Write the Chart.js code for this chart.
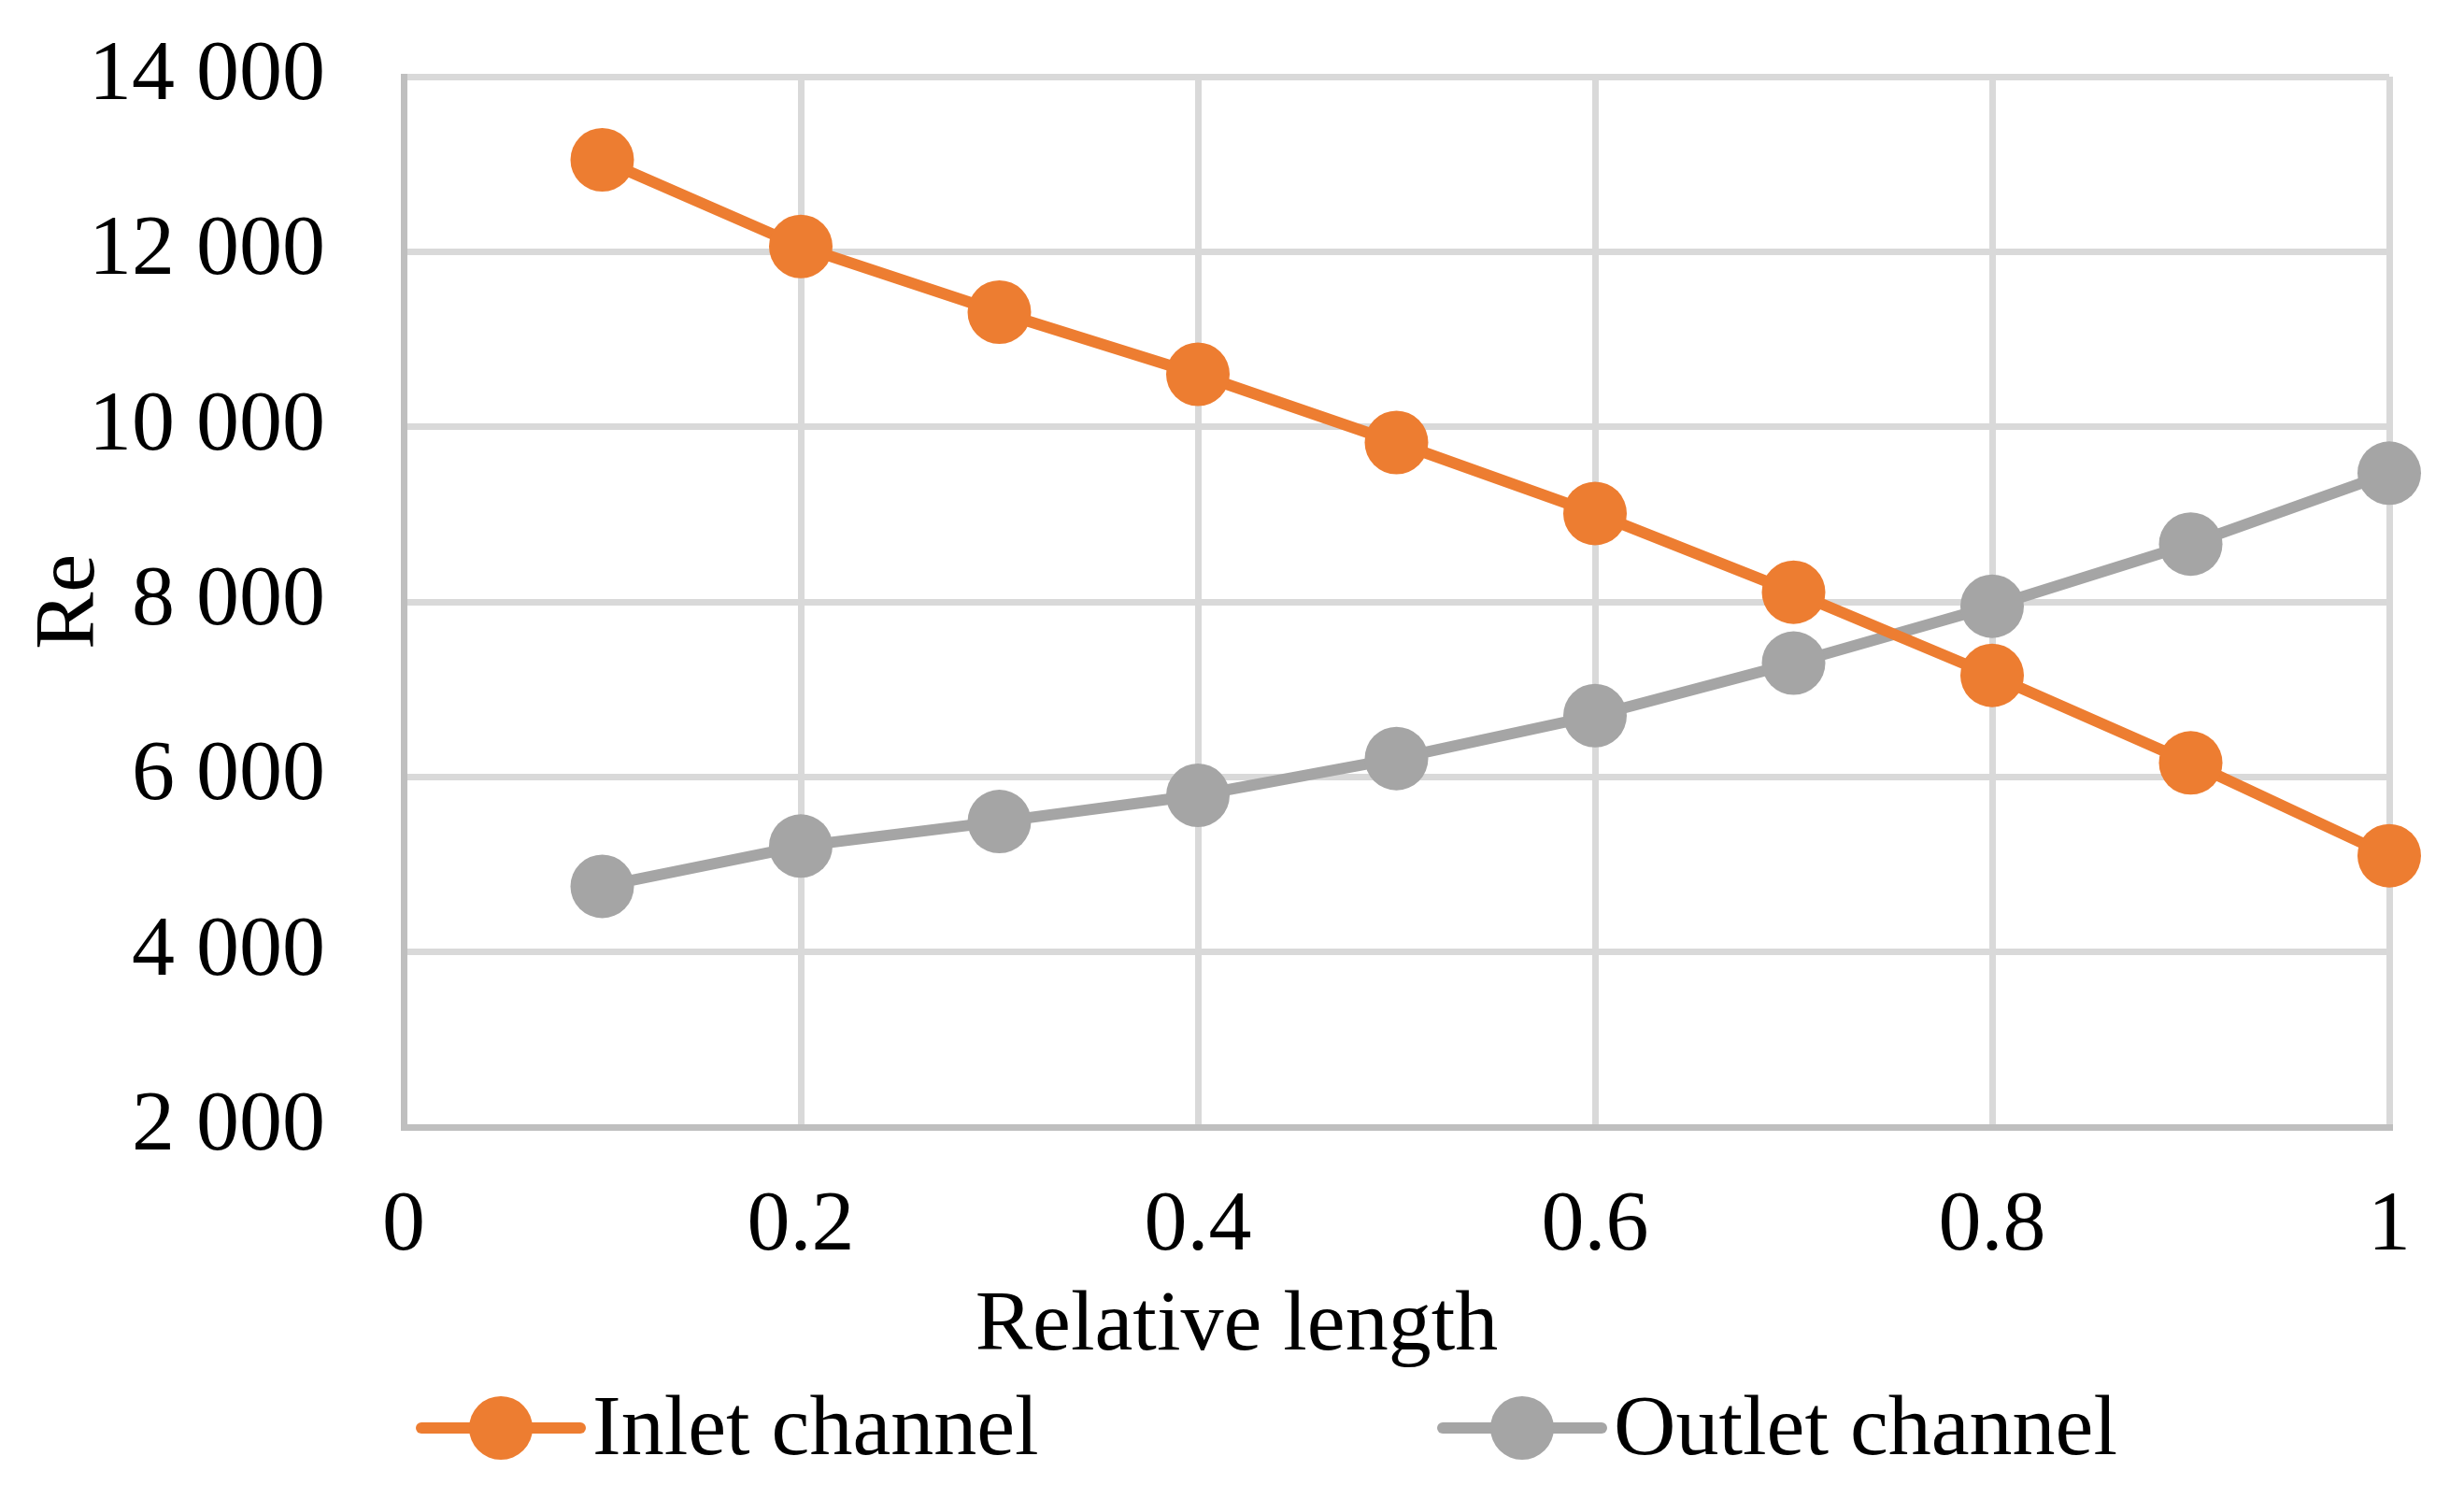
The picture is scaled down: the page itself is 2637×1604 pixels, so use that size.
<!DOCTYPE html>
<html>
<head>
<meta charset="utf-8">
<script src="https://cdn.jsdelivr.net/npm/chart.js@4.4.1/dist/chart.umd.min.js"></script>
<style>
    html, body { margin: 0; padding: 0; background: #fff; }
    canvas { display: block; }
</style>
</head>
<body>
<canvas id="reChart" width="2637" height="1604"></canvas>
<script>
// Data
const relativeLength = [0.1, 0.2, 0.3, 0.4, 0.5, 0.6, 0.7, 0.8, 0.9, 1.0];
const inletRe = [13050, 12060, 11310, 10600, 9820, 9010, 8110, 7160, 6160, 5100];
const outletRe = [4750, 5210, 5490, 5790, 6210, 6700, 7300, 7950, 8660, 9470];
const seriesNames = ['Inlet channel', 'Outlet channel'];
const xTicks = [0, 0.2, 0.4, 0.6, 0.8, 1];
const yTicks = [2000, 4000, 6000, 8000, 10000, 12000, 14000];
const xTitle = 'Relative length';
const yTitle = 'Re';

const FONT = '"Liberation Serif", "Times New Roman", serif';
const ORANGE = '#ED7D31';
const GREY = '#A5A5A5';

// thousands with a space, like "14 000"
function spaced(v) {
    return String(v).replace(/\B(?=(\d{3})+(?!\d))/g, ' ');
}

function points(ys) {
    return relativeLength.map((x, i) => ({ x: x, y: ys[i] }));
}

// x title is centred on the whole chart, not on the plot (Excel does that)
// and the legend is Excel-style: a line with a circle marker, then the text
const excelBits = {
    id: 'excelBits',
    afterDraw(chart) {
        const ctx = chart.ctx;
        const bottom = chart.chartArea.bottom;
        ctx.save();
        ctx.font = '92px ' + FONT;
        ctx.fillStyle = '#000';
        ctx.textBaseline = 'middle';
        ctx.textAlign = 'center';
        ctx.fillText(xTitle, chart.width / 2 + 5, bottom + 214);

        const y = bottom + 322;
        const starts = [451, 1544];
        ctx.textAlign = 'left';
        chart.data.datasets.forEach((ds, i) => {
            const x0 = starts[i];
            ctx.strokeStyle = ds.borderColor;
            ctx.lineWidth = 12;
            ctx.lineCap = 'round';
            ctx.beginPath();
            ctx.moveTo(x0, y);
            ctx.lineTo(x0 + 170, y);
            ctx.stroke();
            ctx.fillStyle = ds.pointBackgroundColor;
            ctx.beginPath();
            ctx.arc(x0 + 85, y, 34, 0, Math.PI * 2);
            ctx.fill();
            ctx.fillStyle = '#000';
            ctx.fillText(ds.label, x0 + 183, y + 4);
        });
        ctx.restore();
    }
};

const ctx = document.getElementById('reChart').getContext('2d');
const reChart = new Chart(ctx, {
    type: 'line',
    data: {
        datasets: [
            {
                label: seriesNames[0],
                data: points(inletRe),
                borderColor: ORANGE,
                backgroundColor: ORANGE,
                pointBackgroundColor: ORANGE,
                pointBorderWidth: 0,
                pointRadius: 34,
                borderWidth: 12,
                tension: 0,
                clip: false
            },
            {
                label: seriesNames[1],
                data: points(outletRe),
                borderColor: GREY,
                backgroundColor: GREY,
                pointBackgroundColor: GREY,
                pointBorderWidth: 0,
                pointRadius: 34,
                borderWidth: 12,
                tension: 0,
                clip: false
            }
        ]
    },
    options: {
        responsive: false,
        animation: false,
        devicePixelRatio: 1,
        layout: {
            padding: { left: 0, top: 82, right: 80, bottom: 129 }
        },
        plugins: {
            legend: { display: false },
            tooltip: { enabled: false }
        },
        scales: {
            x: {
                type: 'linear',
                min: 0,
                max: 1,
                afterFit(scale) { scale.height = 269; },
                afterBuildTicks(scale) { scale.ticks = xTicks.map(v => ({ value: v })); },
                grid: { color: '#D9D9D9', lineWidth: 7, drawTicks: false },
                border: { color: '#BFBFBF', width: 7 },
                ticks: {
                    padding: 52,
                    color: '#000',
                    font: { family: FONT, size: 92 },
                    callback: v => String(v)
                }
            },
            y: {
                min: 2000,
                max: 14000,
                // tick padding would otherwise be added above the plot too
                afterFit(scale) {
                    scale.width = 432;
                    scale.paddingTop = 0;
                    scale.paddingBottom = 0;
                },
                afterBuildTicks(scale) { scale.ticks = yTicks.map(v => ({ value: v })); },
                grid: { color: '#D9D9D9', lineWidth: 7, drawTicks: false },
                border: { color: '#BFBFBF', width: 7 },
                ticks: {
                    padding: 84,
                    color: '#000',
                    font: { family: FONT, size: 92 },
                    callback: v => spaced(v)
                },
                title: {
                    display: true,
                    text: yTitle,
                    color: '#000',
                    font: { family: FONT, size: 92 },
                    padding: { top: 21, bottom: 0 }
                }
            }
        }
    },
    plugins: [excelBits]
});
</script>
</body>
</html>
